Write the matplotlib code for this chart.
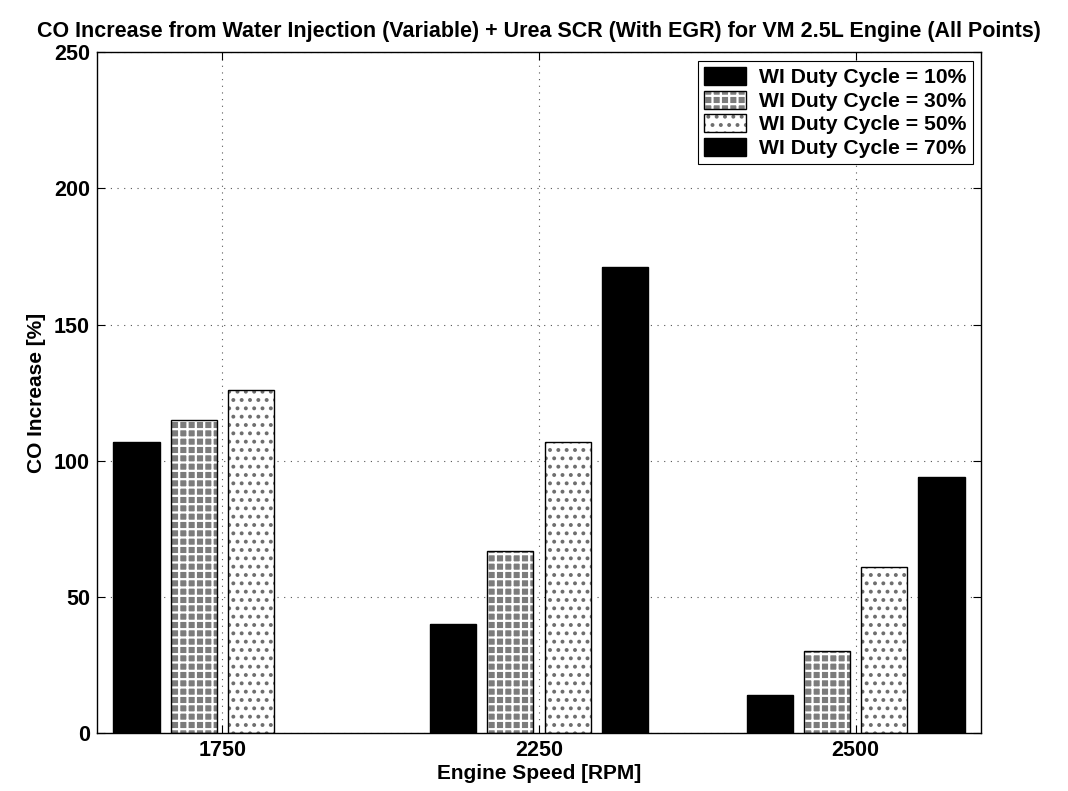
import numpy as np
import matplotlib
matplotlib.use("Agg")
import matplotlib.pyplot as plt
from matplotlib.patches import Patch

speeds = ["1750", "2250", "2500"]
duty_labels = ["WI Duty Cycle = 10%", "WI Duty Cycle = 30%",
               "WI Duty Cycle = 50%", "WI Duty Cycle = 70%"]
co_10 = [107, 40, 14]
co_30 = [115, 67, 30]
co_50 = [126, 107, 61]
co_70 = [np.nan, 171, 94]   # no bar at 1750

plt.rcParams['font.family'] = ['Liberation Sans', 'DejaVu Sans']
plt.rcParams['font.weight'] = 'bold'
plt.rcParams['hatch.linewidth'] = 1.6

# fill colour, hatch, hatch colour for each series
styles = [
    ("black", None, "black"),
    ("#7c7c7c", "++", "white"),
    ("white", "..", "#6e6e6e"),
    ("black", None, "black"),
]

fig = plt.figure(figsize=(10.68, 7.91), dpi=100)
ax = fig.add_axes([0.0908, 0.0733, 0.8277, 0.8607])

x = np.arange(1, len(speeds) + 1)
pitch = 0.181
width = 0.146
series = [co_10, co_30, co_50, co_70]
handles = []
for i, vals in enumerate(series):
    fc, hatch, hc = styles[i]
    pos = x + (i - 1.5) * pitch
    ax.bar(pos, vals, width, color=fc, hatch=hatch, edgecolor=hc,
           linewidth=0, zorder=2)
    ax.bar(pos, vals, width, facecolor="none", edgecolor="black",
           linewidth=1.0, zorder=3)
    h1 = Patch(facecolor=fc, hatch=hatch, edgecolor=hc, linewidth=0)
    h2 = Patch(facecolor="none", edgecolor="black", linewidth=1.0)
    handles.append((h1, h2))

ax.set_xlim(0.604, 3.396)
ax.set_ylim(0, 250)
ax.set_xticks(x)
ax.set_xticklabels(speeds)
ax.set_yticks(np.arange(0, 251, 50))
ax.tick_params(direction="in", top=True, right=True, labelsize=15.5,
               length=6, pad=5)
for lab in ax.get_xticklabels() + ax.get_yticklabels():
    lab.set_fontweight("bold")

ax.grid(True, linestyle=(0, (1, 5)), color="#555555", linewidth=0.8)
ax.set_axisbelow(True)
for s in ax.spines.values():
    s.set_linewidth(1.0)

ax.set_xlabel("Engine Speed [RPM]", fontsize=15, fontweight="bold", labelpad=2)
ax.set_ylabel("CO Increase [%]", fontsize=15, fontweight="bold", labelpad=6)
ax.set_title("CO Increase from Water Injection (Variable) + Urea SCR (With EGR) for VM 2.5L Engine (All Points)",
             fontsize=15.5, fontweight="bold", pad=11)

leg = ax.legend(handles, duty_labels, loc="upper right",
                prop={"weight": "bold", "size": 15.2},
                fancybox=False, edgecolor="black", framealpha=1,
                handlelength=2.0, handleheight=0.95, borderaxespad=0.4,
                labelspacing=0.15, handletextpad=0.6, borderpad=0.3)
leg.get_frame().set_linewidth(0.8)

fig.savefig("out.png", dpi=100)
